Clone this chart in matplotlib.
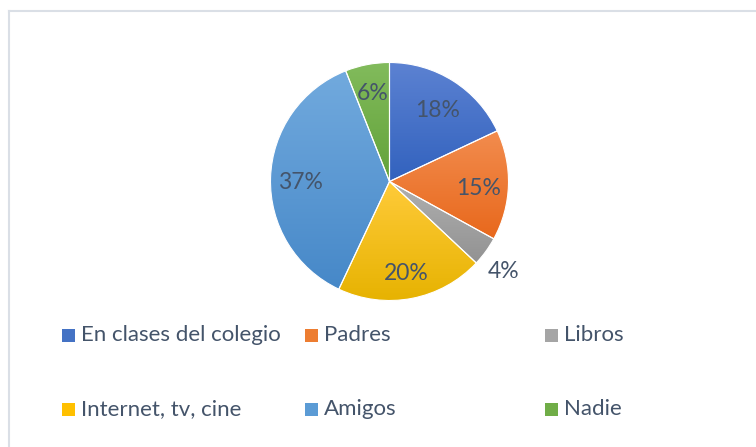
import numpy as np
import matplotlib
matplotlib.use("Agg")
import matplotlib.pyplot as plt
from matplotlib.colors import to_rgb
from matplotlib.lines import Line2D
from matplotlib.patches import Rectangle

categories = ["En clases del colegio", "Padres", "Libros",
              "Internet, tv, cine", "Amigos", "Nadie"]
values = [18, 15, 4, 20, 37, 6]
top_colors = ["#5C82D2", "#F28C4E", "#B0B0B0", "#FFCB3A", "#72AADE", "#82BB5C"]
bottom_colors = ["#3262BE", "#E8681C", "#929292", "#E6B200", "#4688C8", "#62A239"]
mid_colors = ["#4472C4", "#ED7D31", "#A5A5A5", "#FFC000", "#5B9BD5", "#70AD47"]

W, H, DPI = 756, 447, 100
fig = plt.figure(figsize=(W / DPI, H / DPI), dpi=DPI)
fig.patch.set_facecolor("white")

text_color = "#44546A"
font = "Lato"

# pie axes: center (389.5, 181.5) px from top, radius 119 px
cx, cy, r = 389.5, 181.5, 119.0
half = 150.0
ax = fig.add_axes([(cx - half) / W, (H - cy - half) / H, 2 * half / W, 2 * half / H])
lim = half / r
ax.set_xlim(-lim, lim)
ax.set_ylim(-lim, lim)
ax.set_aspect("equal")
ax.axis("off")

wedges, _, autotexts = ax.pie(
    values, startangle=90, counterclock=False, colors=mid_colors,
    autopct=lambda p: f"{p:.0f}%", pctdistance=0.75,
    wedgeprops=dict(edgecolor="white", linewidth=0.8),
    textprops=dict(color=text_color, fontsize=16.5, family=font),
)

for w, ct, cb in zip(wedges, top_colors, bottom_colors):
    verts = w.get_patch_transform().transform(w.get_path().vertices)
    x0, y0 = verts.min(axis=0)
    x1, y1 = verts.max(axis=0)
    t = np.linspace(0, 1, 256)[:, None]
    c0 = np.array(to_rgb(cb))
    c1 = np.array(to_rgb(ct))
    grad = (c0[None, :] * (1 - t) + c1[None, :] * t)[:, None, :]
    im = ax.imshow(grad, extent=[x0, x1, y0, y1], origin="lower",
                   aspect="auto", zorder=1, interpolation="bilinear")
    im.set_clip_path(w)
    w.set_facecolor("none")
    w.set_zorder(2)

ax.set_xlim(-lim, lim)
ax.set_ylim(-lim, lim)

# label placement: small slice label outside, slight downward offset like Excel
total = sum(values)
cum = 0
for v, txt in zip(values, autotexts):
    mid = 90 - 360 * (cum + v / 2) / total
    cum += v
    txt.set_zorder(5)
    if v / total < 0.05:
        a = np.deg2rad(mid - 2.5)
        txt.set_position((1.22 * np.cos(a), 1.22 * np.sin(a)))
    elif v / total > 0.1:
        x, y = txt.get_position()
        txt.set_position((x, y - 0.035))

# legend (3 columns, 2 rows)
col_x = [62, 305, 545]
row_y = [335, 409]
sq = 13
for i, (cat, col) in enumerate(zip(categories, mid_colors)):
    rr, cc = divmod(i, 3)
    x = col_x[cc]
    y = row_y[rr]
    fig.patches.append(Rectangle(((x) / W, (H - y - sq / 2) / H), sq / W, sq / H,
                                 transform=fig.transFigure, facecolor=col,
                                 edgecolor="none"))
    fig.text((x + 19) / W, (H - y) / H, cat, color=text_color, fontsize=16,
             family=font, va="center", ha="left")

# chart border (top and left visible)
bc = "#DADFE6"
fig.lines.append(Line2D([9 / W, 1.0], [1 - 11 / H, 1 - 11 / H],
                        transform=fig.transFigure, color=bc, linewidth=1.5))
fig.lines.append(Line2D([9 / W, 9 / W], [0, 1 - 11 / H],
                        transform=fig.transFigure, color=bc, linewidth=1.5))

fig.savefig("out.png", dpi=DPI, facecolor="white")
